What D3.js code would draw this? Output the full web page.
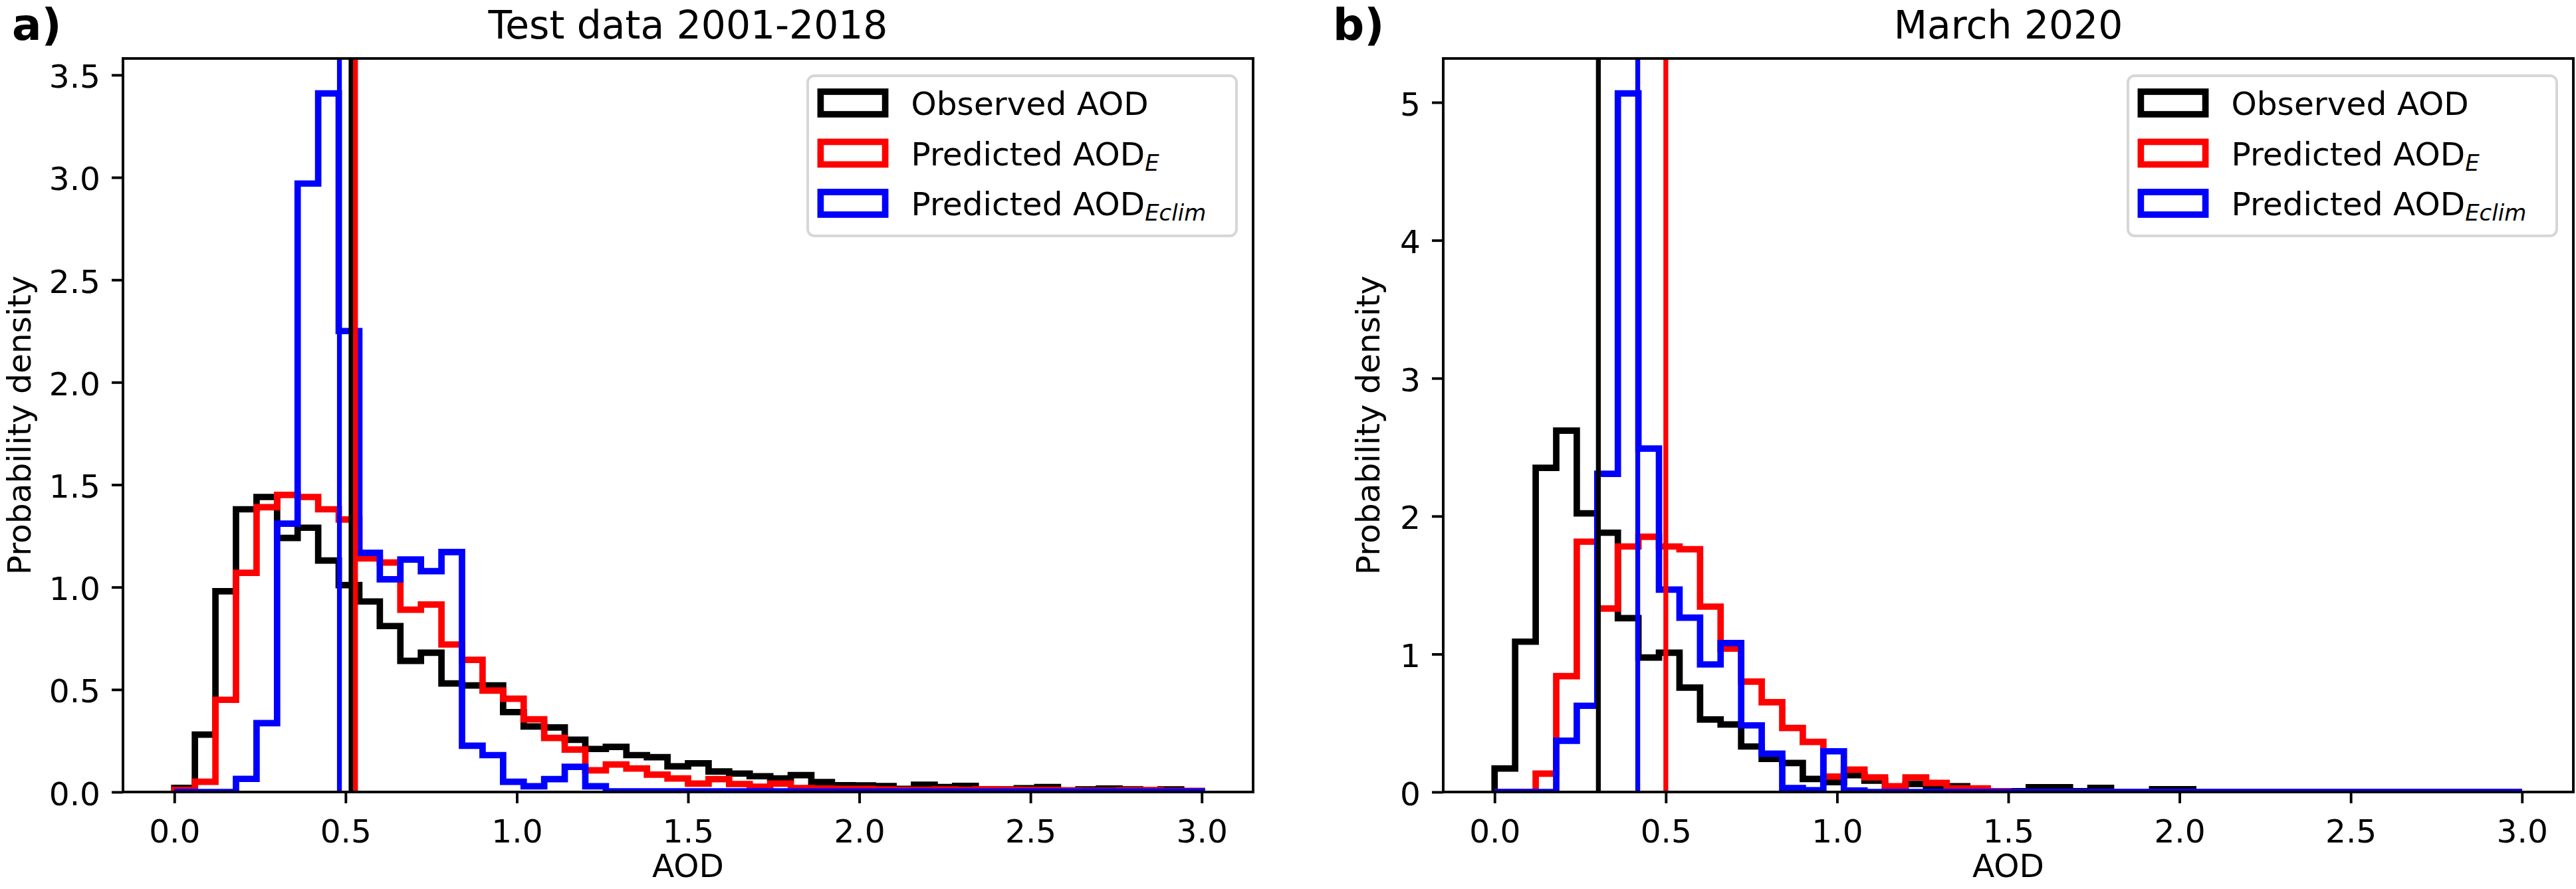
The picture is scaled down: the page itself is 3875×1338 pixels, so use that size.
<!DOCTYPE html>
<html>
<head>
<meta charset="utf-8">
<script src="https://cdn.jsdelivr.net/npm/d3@7"></script>
<style>
  body { margin: 0; background: #fff; }
  svg { display: block; font-family: "DejaVu Sans", sans-serif; }
</style>
</head>
<body>
<svg id="chart" width="3875" height="1338"></svg>
<script>
// histogram bins: 50 bins of width 0.06 over AOD 0..3
const binStart = 0;
const binWidth = 0.06;

// a) Test data 2001-2018 (probability density per bin)
const obsTest = [0.02, 0.28, 0.98, 1.38, 1.44, 1.24, 1.29, 1.13, 1.01, 0.93,
  0.81, 0.64, 0.68, 0.53, 0.52, 0.52, 0.39, 0.32, 0.315, 0.255,
  0.21, 0.22, 0.18, 0.17, 0.125, 0.14, 0.10, 0.09, 0.077, 0.066,
  0.082, 0.048, 0.033, 0.032, 0.029, 0.015, 0.035, 0.024, 0.03, 0.013,
  0.013, 0.018, 0.024, 0.008, 0.013, 0.017, 0.013, 0.009, 0.013, 0.004];
const predETest = [0.01, 0.05, 0.45, 1.07, 1.39, 1.45, 1.44, 1.38, 1.33, 1.14,
  1.12, 0.89, 0.915, 0.72, 0.645, 0.495, 0.455, 0.355, 0.264, 0.207,
  0.106, 0.134, 0.115, 0.085, 0.066, 0.041, 0.063, 0.039, 0.026, 0.041,
  0.019, 0.017, 0.015, 0.015, 0.013, 0.01, 0.01, 0.013, 0.01, 0.013,
  0.011, 0.01, 0.01, 0.007, 0.006, 0.006, 0.009, 0.009, 0.005, 0.005];
const predEclimTest = [0, 0, 0, 0.064, 0.336, 1.31, 2.97, 3.41, 2.25, 1.167,
  1.038, 1.135, 1.078, 1.171, 0.226, 0.18, 0.05, 0.028, 0.063, 0.123,
  0.028, 0.003, 0.003, 0.003, 0.003, 0.003, 0.003, 0.003, 0.003, 0.003,
  0.002, 0.002, 0.002, 0.002, 0.002, 0.002, 0.002, 0.002, 0.002, 0.002,
  0.002, 0.002, 0.002, 0.002, 0.002, 0.002, 0.002, 0.002, 0.002, 0.002];
const meansTest = [0.516, 0.529, 0.482];

// b) March 2020
const obsMarch = [0.17, 1.09, 2.35, 2.62, 2.02, 1.88, 1.26, 0.975, 1.01, 0.757,
  0.526, 0.49, 0.33, 0.24, 0.21, 0.095, 0.071, 0.122, 0.082, 0.02,
  0.058, 0.026, 0.042, 0.018, 0.005, 0.005, 0.034, 0.034, 0.005, 0.03,
  0, 0, 0.02, 0.02, 0, 0, 0, 0, 0, 0,
  0, 0, 0, 0, 0, 0, 0, 0, 0, 0];
const predEMarch = [0, 0, 0.133, 0.84, 1.815, 1.33, 1.78, 1.85, 1.78, 1.76,
  1.344, 1.04, 0.80, 0.651, 0.464, 0.363, 0.112, 0.162, 0.106, 0.042,
  0.106, 0.066, 0.026, 0.026, 0.005, 0, 0, 0, 0, 0,
  0, 0, 0, 0, 0, 0, 0, 0, 0, 0,
  0, 0, 0, 0, 0, 0, 0, 0, 0, 0];
const predEclimMarch = [0, 0, 0, 0.372, 0.625, 2.307, 5.065, 2.49, 1.467, 1.264,
  0.925, 1.08, 0.483, 0.278, 0.029, 0.013, 0.295, 0.01, 0, 0,
  0, 0, 0, 0, 0, 0, 0, 0, 0, 0,
  0, 0, 0, 0, 0, 0, 0, 0, 0, 0,
  0, 0, 0, 0, 0, 0, 0, 0, 0, 0];
const meansMarch = [0.303, 0.500, 0.418];

const seriesColors = ['#000000', '#ff0000', '#0000ff'];
const legendLabels = [
  { text: 'Observed AOD', sub: '' },
  { text: 'Predicted AOD', sub: 'E' },
  { text: 'Predicted AOD', sub: 'Eclim' }
];
const xTicks = [0, 0.5, 1, 1.5, 2, 2.5, 3];
const yTicksTest = [0, 0.5, 1, 1.5, 2, 2.5, 3, 3.5];
const yTicksMarch = [0, 1, 2, 3, 4, 5];

const panels = [
  { left: 185, letter: 'a)', letterX: 18, ylabelX: 46, title: 'Test data 2001-2018',
    series: [obsTest, predETest, predEclimTest], means: meansTest,
    yTicks: yTicksTest, yFmt: d3.format('.1f') },
  { left: 2171, letter: 'b)', letterX: 2005, ylabelX: 2075, title: 'March 2020',
    series: [obsMarch, predEMarch, predEclimMarch], means: meansMarch,
    yTicks: yTicksMarch, yFmt: d3.format('d') }
];

const plotTop = 88, plotW = 1700, plotH = 1104;
const fs = 48.6;          // 10pt at 350 dpi
const spineW = 3.9, histW = 9.7, vlineW = 7.3;

const svg = d3.select('#chart');

panels.forEach((p, pi) => {
  const x = d3.scaleLinear().domain([-0.15, 3.15]).range([p.left, p.left + plotW]);
  const yMax = d3.max(p.series, s => d3.max(s)) * 1.05;
  const y = d3.scaleLinear().domain([0, yMax]).range([plotTop + plotH, plotTop]);

  const clipId = `clip-${pi}`;
  svg.append('clipPath').attr('id', clipId)
    .append('rect')
    .attr('x', p.left).attr('y', plotTop)
    .attr('width', plotW).attr('height', plotH);

  const plot = svg.append('g').attr('clip-path', `url(#${clipId})`);

  // step histograms
  const line = d3.line().x(d => x(d[0])).y(d => y(d[1]));
  p.series.forEach((vals, si) => {
    const pts = [[binStart, 0]];
    vals.forEach((v, i) => {
      pts.push([binStart + i * binWidth, v]);
      pts.push([binStart + (i + 1) * binWidth, v]);
    });
    pts.push([binStart + vals.length * binWidth, 0]);
    plot.append('path')
      .attr('d', line(pts))
      .attr('fill', 'none')
      .attr('stroke', seriesColors[si])
      .attr('stroke-width', histW)
      .attr('stroke-linejoin', 'miter');
  });

  // mean lines
  p.means.forEach((m, si) => {
    plot.append('line')
      .attr('x1', x(m)).attr('x2', x(m))
      .attr('y1', plotTop).attr('y2', plotTop + plotH)
      .attr('stroke', seriesColors[si])
      .attr('stroke-width', vlineW);
  });

  // axes
  const xAxis = d3.axisBottom(x)
    .tickValues(xTicks)
    .tickFormat(d3.format('.1f'))
    .tickSize(17).tickPadding(17).tickSizeOuter(0);
  svg.append('g')
    .attr('transform', `translate(0,${plotTop + plotH})`)
    .call(xAxis)
    .call(g => g.select('.domain').remove())
    .call(g => g.selectAll('line').attr('stroke', '#000').attr('stroke-width', spineW))
    .call(g => g.selectAll('text')
      .attr('dy', 42).attr('fill', '#000')
      .attr('font-size', fs).attr('font-family', 'DejaVu Sans'));

  const yAxis = d3.axisLeft(y)
    .tickValues(p.yTicks)
    .tickFormat(p.yFmt)
    .tickSize(17).tickPadding(17).tickSizeOuter(0);
  svg.append('g')
    .attr('transform', `translate(${p.left},0)`)
    .call(yAxis)
    .call(g => g.select('.domain').remove())
    .call(g => g.selectAll('line').attr('stroke', '#000').attr('stroke-width', spineW))
    .call(g => g.selectAll('text')
      .attr('dy', 19).attr('fill', '#000')
      .attr('font-size', fs).attr('font-family', 'DejaVu Sans'));

  // spines
  svg.append('rect')
    .attr('x', p.left).attr('y', plotTop)
    .attr('width', plotW).attr('height', plotH)
    .attr('fill', 'none')
    .attr('stroke', '#000')
    .attr('stroke-width', spineW)
    .attr('stroke-linejoin', 'miter');

  // labels
  svg.append('text')
    .attr('x', p.left + plotW / 2).attr('y', 1320)
    .attr('text-anchor', 'middle')
    .attr('font-size', fs)
    .text('AOD');

  svg.append('text')
    .attr('transform', `translate(${p.ylabelX},${plotTop + plotH / 2}) rotate(-90)`)
    .attr('text-anchor', 'middle')
    .attr('font-size', fs)
    .text('Probability density');

  svg.append('text')
    .attr('x', p.left + plotW / 2).attr('y', 58)
    .attr('text-anchor', 'middle')
    .attr('font-size', 58.3)
    .text(p.title);

  svg.append('text')
    .attr('x', p.letterX).attr('y', 60)
    .attr('font-size', 66)
    .attr('font-weight', 'bold')
    .text(p.letter);

  // legend
  const legW = 645, legH = 241;
  const legX = p.left + plotW - 25 - legW, legY = 114;
  const leg = svg.append('g');
  leg.append('rect')
    .attr('x', legX).attr('y', legY)
    .attr('width', legW).attr('height', legH)
    .attr('rx', 10).attr('ry', 10)
    .attr('fill', '#fff').attr('fill-opacity', 0.8)
    .attr('stroke', '#d6d6d6').attr('stroke-width', spineW);

  legendLabels.forEach((lab, i) => {
    const base = 173 + i * 75.5;
    leg.append('rect')
      .attr('x', legX + 19.4).attr('y', base - 18 - 17)
      .attr('width', 97.2).attr('height', 34)
      .attr('fill', 'none')
      .attr('stroke', seriesColors[i])
      .attr('stroke-width', histW);
    const t = leg.append('text')
      .attr('x', legX + 155.5).attr('y', base)
      .attr('font-size', fs);
    t.append('tspan').text(lab.text);
    if (lab.sub) {
      t.append('tspan')
        .attr('font-style', 'italic')
        .attr('font-size', 34)
        .attr('dy', 8)
        .text(lab.sub);
    }
  });
});
</script>
</body>
</html>
